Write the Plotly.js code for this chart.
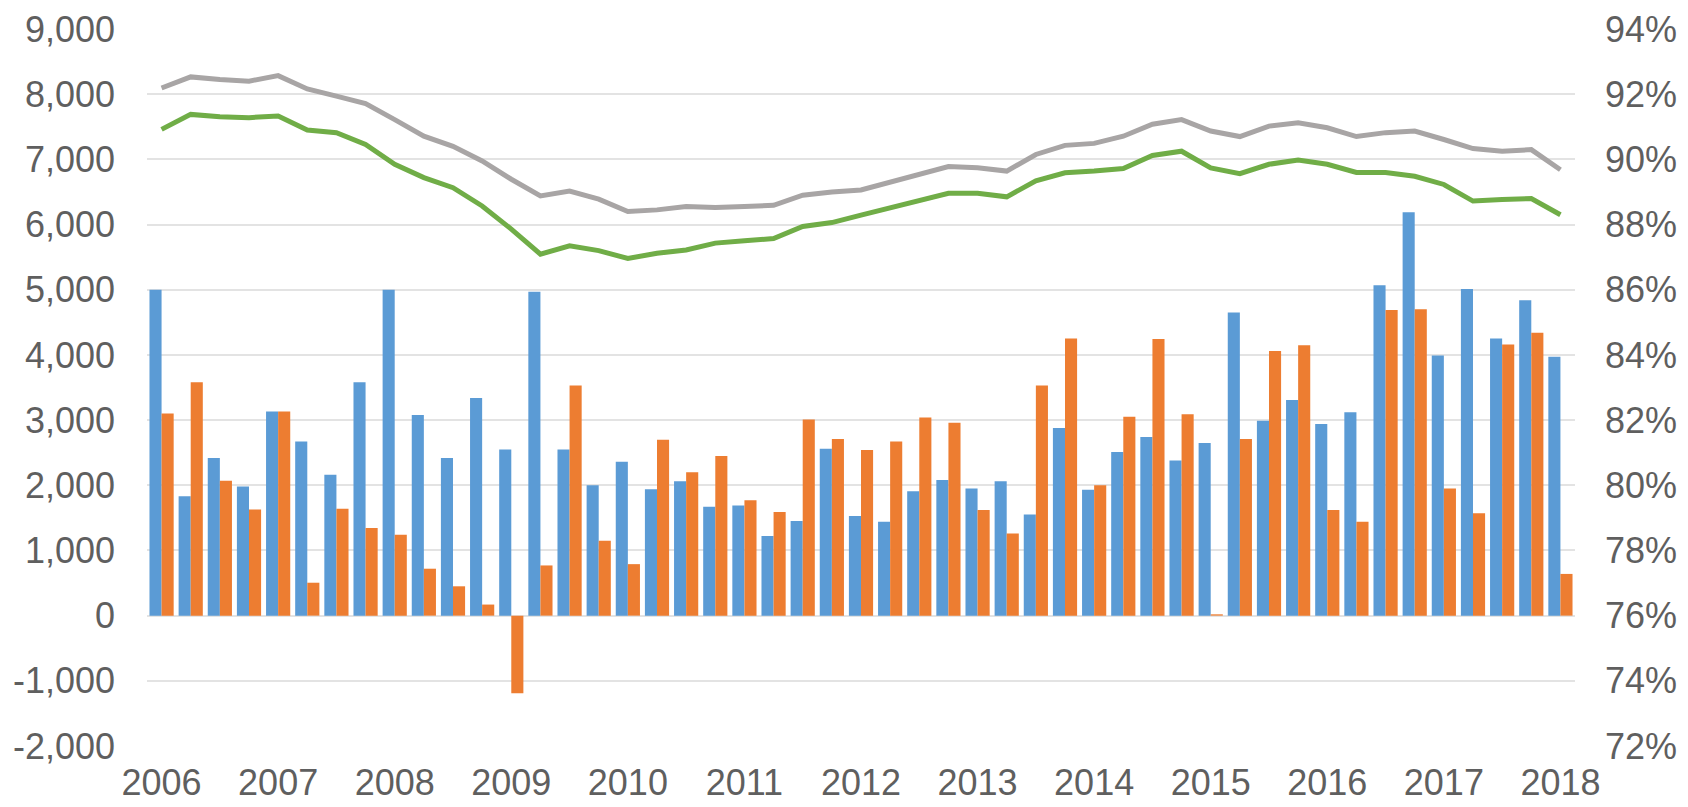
<!DOCTYPE html>
<html>
<head>
<meta charset="utf-8">
<script src="https://cdn.plot.ly/plotly-3.0.1.min.js"></script>
<style>
  html, body { margin: 0; padding: 0; background: #ffffff; }
  #chart { width: 1688px; height: 807px; }
</style>
</head>
<body>
<div id="chart"></div>
<script>
// Quarterly categories 2006 Q1 .. 2018 Q1
const quarters = [
  '2006Q1','2006Q2','2006Q3','2006Q4',
  '2007Q1','2007Q2','2007Q3','2007Q4',
  '2008Q1','2008Q2','2008Q3','2008Q4',
  '2009Q1','2009Q2','2009Q3','2009Q4',
  '2010Q1','2010Q2','2010Q3','2010Q4',
  '2011Q1','2011Q2','2011Q3','2011Q4',
  '2012Q1','2012Q2','2012Q3','2012Q4',
  '2013Q1','2013Q2','2013Q3','2013Q4',
  '2014Q1','2014Q2','2014Q3','2014Q4',
  '2015Q1','2015Q2','2015Q3','2015Q4',
  '2016Q1','2016Q2','2016Q3','2016Q4',
  '2017Q1','2017Q2','2017Q3','2017Q4',
  '2018Q1'
];

// X tick labels (placed on each Q1)
const xTickVals = ['2006Q1','2007Q1','2008Q1','2009Q1','2010Q1','2011Q1','2012Q1',
                   '2013Q1','2014Q1','2015Q1','2016Q1','2017Q1','2018Q1'];
const xTickText = ['2006','2007','2008','2009','2010','2011','2012',
                   '2013','2014','2015','2016','2017','2018'];

// Bar series (left axis)
const blueBars = [5000,1830,2420,1980,3130,2670,2160,3580,5000,3080,2420,3340,
                  2550,4970,2550,2000,2360,1940,2060,1670,1690,1220,1450,2560,
                  1530,1440,1910,2080,1950,2060,1550,2880,1930,2510,2740,2380,
                  2650,4650,2990,3310,2940,3120,5070,6190,3990,5010,4250,4840,3970];
const orangeBars = [3100,3580,2070,1630,3130,505,1640,1345,1240,720,450,170,
                    -1190,770,3530,1150,790,2700,2200,2450,1770,1590,3010,2710,
                    2540,2670,3040,2960,1620,1260,3530,4250,2000,3050,4245,3090,
                    20,2710,4060,4150,1620,1440,4690,4700,1950,1570,4160,4340,640];

// Line series (right axis, percent)
const grayLine = [92.19,92.53,92.45,92.40,92.57,92.16,91.94,91.71,91.22,90.71,90.40,89.95,
                  89.39,88.88,89.03,88.78,88.40,88.45,88.55,88.52,88.55,88.59,88.90,89.00,
                  89.06,89.31,89.54,89.78,89.74,89.64,90.15,90.43,90.49,90.71,91.08,91.22,
                  90.87,90.70,91.02,91.12,90.97,90.70,90.82,90.87,90.61,90.33,90.25,90.30,89.68];
const greenLine = [90.92,91.38,91.31,91.28,91.33,90.90,90.82,90.46,89.85,89.44,89.13,88.57,
                   87.86,87.09,87.35,87.20,86.96,87.12,87.22,87.43,87.50,87.57,87.94,88.06,
                   88.29,88.52,88.72,88.96,88.96,88.85,89.34,89.59,89.64,89.72,90.12,90.25,
                   89.74,89.56,89.85,89.98,89.85,89.60,89.60,89.48,89.23,88.72,88.77,88.80,88.30];

// Axis tick labels
const leftTickVals = [-2000,-1000,0,1000,2000,3000,4000,5000,6000,7000,8000,9000];
const leftTickText = ['-2,000','-1,000','0','1,000','2,000','3,000','4,000','5,000',
                      '6,000','7,000','8,000','9,000'];
const rightTickVals = [72,74,76,78,80,82,84,86,88,90,92,94];
const rightTickText = ['72%','74%','76%','78%','80%','82%','84%','86%','88%','90%','92%','94%'];

const textColor = '#5f5f5f';
const fontFam = '"Liberation Sans", Arial, sans-serif';

const traces = [
  { type: 'bar', x: quarters, y: blueBars, name: 'A',
    marker: { color: '#5B9BD5', line: { width: 0 } }, yaxis: 'y' },
  { type: 'bar', x: quarters, y: orangeBars, name: 'B',
    marker: { color: '#ED7D31', line: { width: 0 } }, yaxis: 'y' },
  { type: 'scatter', mode: 'lines', x: quarters, y: grayLine, name: 'C',
    line: { color: '#A8A5A5', width: 5 }, yaxis: 'y2' },
  { type: 'scatter', mode: 'lines', x: quarters, y: greenLine, name: 'D',
    line: { color: '#70AD47', width: 5 }, yaxis: 'y2' }
];

const layout = {
  width: 1688, height: 807,
  margin: { l: 147, r: 113, t: 29, b: 61, pad: 0 },
  paper_bgcolor: '#ffffff', plot_bgcolor: '#ffffff',
  showlegend: false,
  barmode: 'group', bargap: 0.17, bargroupgap: 0,
  font: { family: fontFam, size: 36, color: textColor },
  xaxis: {
    type: 'category', categoryorder: 'array', categoryarray: quarters,
    range: [-0.5, 48.5],
    tickmode: 'array', tickvals: xTickVals, ticktext: xTickText,
    showgrid: false, zeroline: false, showline: false, ticks: '',
    ticklabelstandoff: 12,
    tickfont: { family: fontFam, size: 36, color: textColor }
  },
  yaxis: {
    range: [-2000, 9000],
    tickmode: 'array', tickvals: leftTickVals, ticktext: leftTickText,
    showgrid: true, gridcolor: '#e3e3e3', gridwidth: 2,
    zeroline: false, showline: false, ticks: '',
    ticklabelstandoff: 31,
    tickfont: { family: fontFam, size: 36, color: textColor }
  },
  yaxis2: {
    overlaying: 'y', side: 'right',
    range: [72, 94],
    tickmode: 'array', tickvals: rightTickVals, ticktext: rightTickText,
    showgrid: false, zeroline: false, showline: false, ticks: '',
    ticklabelstandoff: 29,
    tickfont: { family: fontFam, size: 36, color: textColor }
  }
};

Plotly.newPlot('chart', traces, layout, { displayModeBar: false, staticPlot: true });
</script>
</body>
</html>
